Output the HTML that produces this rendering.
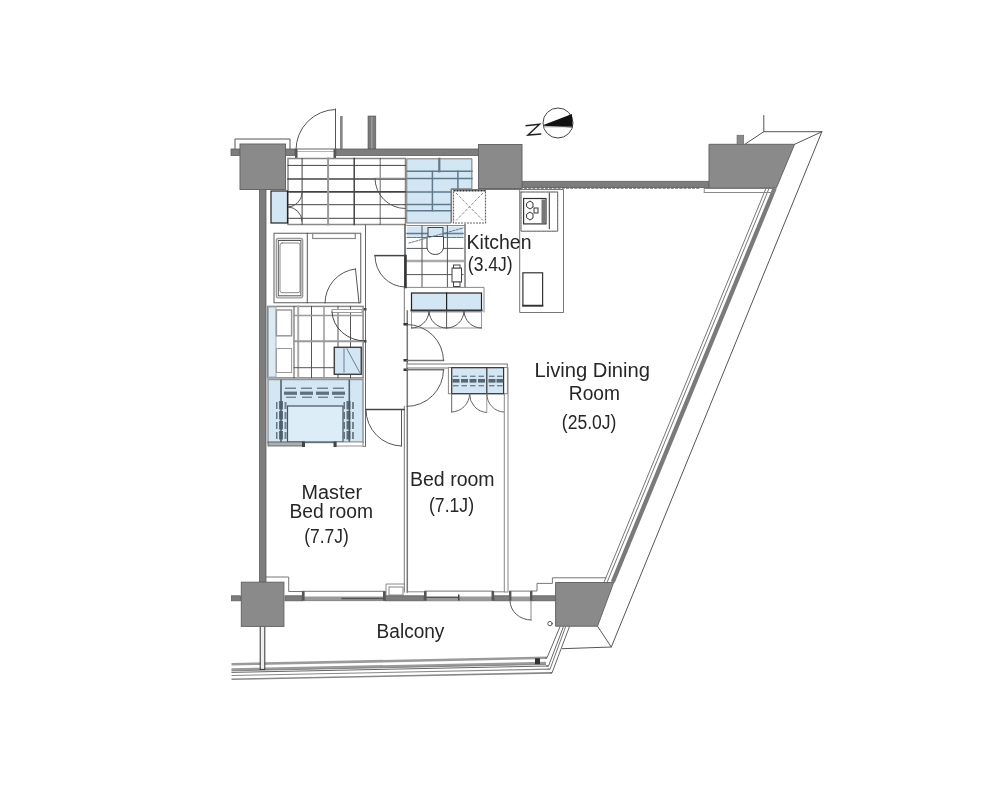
<!DOCTYPE html>
<html><head><meta charset="utf-8">
<style>
html,body{margin:0;padding:0;background:#fff;width:999px;height:801px;overflow:hidden}
svg{display:block;will-change:transform}
text{font-family:"Liberation Sans",sans-serif;fill:#262626}
</style></head>
<body>
<svg width="999" height="801" viewBox="0 0 999 801">
<g fill="none" stroke-linecap="square">

<!-- ===== slanted right side ===== -->
<g id="slant">
  <!-- outer thin line + top cap -->
  <polyline points="763.8,115.6 763.8,131.7 821.9,131.7 611.3,647 562.5,648.7" stroke="#555" stroke-width="1"/>
  <line x1="763.8" y1="131.7" x2="744.8" y2="144.3" stroke="#555" stroke-width="1"/>
  <line x1="794.6" y1="144.3" x2="821.9" y2="131.7" stroke="#555" stroke-width="1"/>
  <line x1="597.5" y1="626.2" x2="611.3" y2="647" stroke="#555" stroke-width="1"/>
  <!-- window: gray thick line -->
  <line x1="774.8" y1="188" x2="612.8" y2="582" stroke="#7a7a7a" stroke-width="4.3" stroke-linecap="butt"/>
  <line x1="769.2" y1="188" x2="607.2" y2="582" stroke="#777" stroke-width="1" stroke-linecap="butt"/>
  <line x1="766.1" y1="188" x2="604.1" y2="582" stroke="#777" stroke-width="1" stroke-linecap="butt"/>
</g>

<!-- ===== top-left ===== -->
<polyline points="235,149 235,139 290,139 290,149" stroke="#555" stroke-width="1"/>
<!-- entrance door -->
<path d="M296,150 A40,40 0 0 1 335.5,109.5" stroke="#555" stroke-width="1"/>
<line x1="335.5" y1="109" x2="335.5" y2="150" stroke="#555" stroke-width="1"/>
<rect x="295" y="149" width="41" height="3" fill="#fff" stroke="#666" stroke-width="1"/>
<rect x="295" y="152" width="41" height="4" fill="#fff" stroke="none"/>
<rect x="295" y="149" width="2.5" height="9" fill="#555" stroke="none"/>
<rect x="333.5" y="149" width="2.5" height="9" fill="#555" stroke="none"/>
<rect x="340" y="116" width="2.7" height="33" fill="#888" stroke="none"/>
<rect x="368" y="116" width="7.8" height="33" fill="#7a7a7a" stroke="#555" stroke-width="0.6"/>
<rect x="371" y="117" width="1.6" height="32" fill="#999" stroke="none"/>

<!-- entrance grid -->
<g stroke="#444" stroke-width="1">
  <rect x="288" y="158.5" width="117.5" height="66" stroke="#888" stroke-width="1.5"/>
  <line x1="288" y1="165.4" x2="405.5" y2="165.4"/>
  <line x1="288" y1="178.9" x2="405.5" y2="178.9" stroke-width="1.5"/>
  <line x1="288" y1="191.9" x2="405.5" y2="191.9" stroke-width="1.8"/>
  <line x1="288" y1="204.7" x2="405.5" y2="204.7"/>
  <line x1="288" y1="218.3" x2="405.5" y2="218.3"/>
  <line x1="302.1" y1="158.5" x2="302.1" y2="224.5"/>
  <line x1="328.1" y1="158.5" x2="328.1" y2="224.5" stroke="#999" stroke-width="2"/>
  <line x1="354.2" y1="158.5" x2="354.2" y2="224.5" stroke-width="1.5"/>
  <line x1="380.2" y1="158.5" x2="380.2" y2="224.5" stroke-width="0.8"/>
  <!-- small double door left -->
  <path d="M288,207 A14,14 0 0 0 302,193" stroke="#555"/>
  <path d="M288,207 A14,14 0 0 1 302,221" stroke="#555"/>
  <!-- door right -->
  <line x1="375" y1="178.5" x2="405" y2="178.5" stroke="#888" stroke-width="1.5"/>
  <path d="M375,178.5 A30,30 0 0 0 405,208.5" stroke="#555"/>
</g>
<rect x="271" y="191" width="16.5" height="32" fill="#d3e6f3" stroke="#222" stroke-width="1.2"/>

<!-- blue shoe closet -->
<g>
  <path d="M407.3,158.8 H471.9 V188.8 H451 V223 H407.3 Z" fill="#d3e6f3" stroke="#777" stroke-width="1"/>
  <g stroke="#5f7a8a" stroke-width="1.5">
    <line x1="407.3" y1="171.3" x2="471.9" y2="171.3"/>
    <line x1="407.3" y1="178.6" x2="471.9" y2="178.6"/>
    <line x1="407.3" y1="192" x2="451" y2="192"/>
    <line x1="407.3" y1="204.5" x2="451" y2="204.5"/>
    <line x1="407.3" y1="210.7" x2="451" y2="210.7"/>
    <line x1="439.3" y1="158.8" x2="439.3" y2="171.3" stroke-width="2.2"/>
    <line x1="432.4" y1="171.3" x2="432.4" y2="210.7"/>
    <line x1="457.9" y1="171.3" x2="457.9" y2="188.8"/>
  </g>
</g>

<!-- kitchen -->
<g stroke="#777" stroke-width="1">
  <polyline points="451.6,222 451.6,189.5 563.5,189.5 563.5,312.5 519.7,312.5 519.7,190"/>
  <rect x="704.2" y="188.5" width="70" height="4" stroke="#888"/>
</g>
<!-- fridge X box -->
<g stroke="#666" stroke-width="1" stroke-dasharray="2,1" stroke-linecap="butt">
  <rect x="453.5" y="190.5" width="32" height="32.5" stroke-width="1.2"/>
  <line x1="453.5" y1="190.8" x2="485.5" y2="190.8" stroke="#333" stroke-width="1.6" stroke-dasharray="2,1"/>
  <line x1="456" y1="193" x2="483" y2="220.5" stroke="#888" stroke-dasharray="3,1.5"/>
  <line x1="483" y1="193" x2="456" y2="220.5" stroke="#888" stroke-dasharray="3,1.5"/>
</g>
<!-- stove -->
<g stroke="#555" stroke-width="1">
  <rect x="521" y="192" width="36.7" height="39.2" stroke-dasharray="1.5,1"/>
  <rect x="523.6" y="198.5" width="22.4" height="25.4" stroke="#333" stroke-width="1.2"/>
  <rect x="541.5" y="199.5" width="4" height="23.5" fill="#777" stroke="none"/>
  <polygon points="527,203 530,201 533,203 533,207 530,209 527,207" stroke="#333"/>
  <polygon points="527,214 530,212 533,214 533,218 530,220 527,218" stroke="#333"/>
  <rect x="534" y="208" width="4" height="5" stroke="#333"/>
  <line x1="549.3" y1="193" x2="549.3" y2="228.6" stroke="#333"/>
  <rect x="522.9" y="272.8" width="19.7" height="33.2" stroke="#333" stroke-width="1.2"/>
  <line x1="522.9" y1="305.5" x2="542.6" y2="305.5" stroke="#333" stroke-width="1.5"/>
</g>

<!-- toilet room -->
<g stroke="#555" stroke-width="1">
  <rect x="464" y="224" width="2" height="63.5" fill="#999" stroke="none"/>
  <rect x="407" y="226.5" width="56" height="10.5" fill="#d3e6f3" stroke="none"/>
  <line x1="407" y1="225.5" x2="465" y2="225.5" stroke="#888"/>
  <line x1="407" y1="233.5" x2="463" y2="233.5" stroke="#5f7a8a" stroke-width="1.5"/>
  <line x1="407" y1="237.5" x2="463" y2="237.5" stroke="#5f7a8a" stroke-dasharray="1.5,1"/>
  <line x1="407" y1="248.4" x2="463" y2="248.4"/>
  <line x1="407" y1="261" x2="463" y2="261" stroke="#aaa" stroke-width="2.5"/>
  <line x1="407" y1="274.6" x2="463" y2="274.6"/>
  <line x1="422" y1="226" x2="422" y2="287"/>
  <line x1="447.4" y1="226" x2="447.4" y2="287"/>
  <path d="M427,237 V248 A8.5,8.5 0 0 0 443.5,248 V237" fill="#fff" stroke="#444"/>
  <rect x="428" y="227.5" width="15" height="9" fill="#d3e6f3" stroke="#444"/>
  <rect x="452" y="268" width="9.5" height="14" fill="#fff" stroke="#444"/>
  <rect x="453.5" y="265" width="6.5" height="3" fill="#fff" stroke="#444"/>
  <rect x="453.5" y="282" width="6.5" height="4.5" fill="#fff" stroke="#444"/>
  <line x1="409" y1="243" x2="463" y2="228" stroke="#5f7a8a" stroke-dasharray="2,1.5"/>
</g>
<!-- counter with blue -->
<g>
  <polyline points="406,287.4 484,287.4 484,312" fill="none" stroke="#888" stroke-width="1"/>
  <rect x="411.5" y="293" width="70" height="17.6" fill="#d3e6f3" stroke="#222" stroke-width="1.2"/>
  <line x1="446.6" y1="293" x2="446.6" y2="310.6" stroke="#222" stroke-width="1.2"/>
  <line x1="411.5" y1="310.6" x2="481.5" y2="310.6" stroke="#333" stroke-width="2"/>
  <g stroke="#555" stroke-width="1">
    <rect x="411.5" y="312" width="70" height="16" stroke="#999"/>
    <path d="M411.5,328 A17,17 0 0 0 429,311"/>
    <path d="M446.6,328 A17,17 0 0 1 429,311"/>
    <path d="M446.6,328 A17,17 0 0 0 464,311"/>
    <path d="M481.5,328 A17,17 0 0 1 464,311"/>
    <line x1="446.6" y1="311" x2="446.6" y2="328"/>
  </g>
</g>

<!-- bath -->
<g stroke="#666" stroke-width="1">
  <rect x="274" y="233.3" width="86.7" height="69.4" stroke="#777" stroke-width="1.2"/>
  <line x1="307.3" y1="233.3" x2="307.3" y2="302.7" stroke="#555"/>
  <rect x="276.3" y="238.5" width="26.4" height="59.3" rx="2" stroke="#999" stroke-width="1.3"/>
  <rect x="278.3" y="240.5" width="22.6" height="55.3" stroke="#555" stroke-width="1"/>
  <rect x="280" y="243" width="20" height="49.7" rx="2" stroke="#888" stroke-width="1"/>
  <rect x="312.7" y="233.5" width="42.6" height="5" stroke="#888" stroke-width="1.2"/>
  <path d="M325,303 A34,34 0 0 1 355.5,269" stroke="#555"/>
  <line x1="355.5" y1="269" x2="359" y2="303" stroke="#555"/>
  <line x1="365.5" y1="225" x2="365.5" y2="446.5" stroke="#666"/>
  <rect x="363.5" y="308" width="3" height="2.5" fill="#444" stroke="none"/>
  <rect x="363.5" y="340" width="3" height="2.5" fill="#444" stroke="none"/>
</g>

<!-- wash area -->
<g stroke="#555" stroke-width="1">
  <rect x="267.6" y="306.4" width="95.5" height="71.5" stroke="#888" stroke-width="1.5"/>
  <rect x="268.5" y="307" width="7.5" height="70" fill="#dceaf3" stroke="#9ab" stroke-dasharray="1,1"/>
  <rect x="276.4" y="310" width="15.2" height="25.8" stroke="#999" stroke-width="1.5"/>
  <rect x="276.4" y="348.5" width="15.2" height="24" stroke="#999" stroke-width="1"/>
  <line x1="294" y1="306.4" x2="294" y2="377.9"/>
  <line x1="298.2" y1="306.4" x2="298.2" y2="377.9" stroke="#aaa" stroke-width="2"/>
  <line x1="311.5" y1="306.4" x2="311.5" y2="377.9"/>
  <line x1="324" y1="306.4" x2="324" y2="377.9" stroke="#999" stroke-width="1.5"/>
  <line x1="338" y1="306.4" x2="338" y2="377.9"/>
  <line x1="350.5" y1="306.4" x2="350.5" y2="377.9"/>
  <line x1="294" y1="315.4" x2="363" y2="315.4" stroke="#999" stroke-width="1.5"/>
  <line x1="294" y1="341.2" x2="363" y2="341.2" stroke="#999" stroke-width="2"/>
  <line x1="294" y1="367.7" x2="334" y2="367.7"/>
  <rect x="332" y="309.5" width="30" height="3" fill="#fff" stroke="#999"/>
  <path d="M332,312 A33,30 0 0 0 365,341" stroke="#444"/>
  <rect x="334.3" y="347.3" width="27" height="27" fill="#d3e6f3" stroke="#444" stroke-width="1.5"/>
  <line x1="347" y1="349" x2="360" y2="373" stroke="#5f7a8a" stroke-dasharray="1.5,1"/>
  <line x1="344" y1="349" x2="344" y2="373" stroke="#5f7a8a" stroke-dasharray="1,1"/>
</g>

<!-- WIC blue -->
<g>
  <rect x="268" y="379.5" width="95" height="63" fill="#d3e6f3" stroke="#8a9aa4" stroke-width="1.5"/>
  <rect x="287.5" y="406" width="55.5" height="36" fill="#dcedf8" stroke="#44545e" stroke-width="1.2"/>
  <g stroke="#52626c" stroke-width="1.6" stroke-dasharray="1.5,1.2">
    <line x1="281" y1="380.5" x2="281" y2="441.5"/><line x1="349.3" y1="380.5" x2="349.3" y2="441.5"/>
  </g>
  <g fill="#4a5a64">
    <rect x="285" y="387.6" width="11" height="1.3" opacity="0.8"/>
    <rect x="284" y="391.6" width="13" height="3.2" opacity="0.85"/>
    <rect x="286" y="396.6" width="10" height="1.4" opacity="0.7"/>
    <rect x="301" y="387.6" width="11" height="1.3" opacity="0.8"/>
    <rect x="300" y="391.6" width="13" height="3.2" opacity="0.85"/>
    <rect x="302" y="396.6" width="10" height="1.4" opacity="0.7"/>
    <rect x="317" y="387.6" width="11" height="1.3" opacity="0.8"/>
    <rect x="316" y="391.6" width="13" height="3.2" opacity="0.85"/>
    <rect x="318" y="396.6" width="10" height="1.4" opacity="0.7"/>
    <rect x="333" y="387.6" width="11" height="1.3" opacity="0.8"/>
    <rect x="332" y="391.6" width="13" height="3.2" opacity="0.85"/>
    <rect x="334" y="396.6" width="10" height="1.4" opacity="0.7"/>
    <rect x="276" y="402" width="1.5" height="7" opacity="0.8"/>
    <rect x="279" y="401" width="4" height="8.5" opacity="0.85"/>
    <rect x="284.5" y="402" width="2" height="7" opacity="0.7"/>
    <rect x="343.5" y="402" width="1.5" height="7" opacity="0.8"/>
    <rect x="346.5" y="401" width="4" height="8.5" opacity="0.85"/>
    <rect x="352.0" y="402" width="2" height="7" opacity="0.7"/>
    <rect x="276" y="412" width="1.5" height="7" opacity="0.8"/>
    <rect x="279" y="411" width="4" height="8.5" opacity="0.85"/>
    <rect x="284.5" y="412" width="2" height="7" opacity="0.7"/>
    <rect x="343.5" y="412" width="1.5" height="7" opacity="0.8"/>
    <rect x="346.5" y="411" width="4" height="8.5" opacity="0.85"/>
    <rect x="352.0" y="412" width="2" height="7" opacity="0.7"/>
    <rect x="276" y="422" width="1.5" height="7" opacity="0.8"/>
    <rect x="279" y="421" width="4" height="8.5" opacity="0.85"/>
    <rect x="284.5" y="422" width="2" height="7" opacity="0.7"/>
    <rect x="343.5" y="422" width="1.5" height="7" opacity="0.8"/>
    <rect x="346.5" y="421" width="4" height="8.5" opacity="0.85"/>
    <rect x="352.0" y="422" width="2" height="7" opacity="0.7"/>
    <rect x="276" y="432" width="1.5" height="7" opacity="0.8"/>
    <rect x="279" y="431" width="4" height="8.5" opacity="0.85"/>
    <rect x="284.5" y="432" width="2" height="7" opacity="0.7"/>
    <rect x="343.5" y="432" width="1.5" height="7" opacity="0.8"/>
    <rect x="346.5" y="431" width="4" height="8.5" opacity="0.85"/>
    <rect x="352.0" y="432" width="2" height="7" opacity="0.7"/>
  </g>
  <rect x="268" y="442" width="35" height="4" fill="#a8b0b4" stroke="#555" stroke-width="0.8"/>
  <rect x="336" y="442" width="27" height="4" fill="#fff" stroke="#777" stroke-width="0.8"/>
  <rect x="302" y="441.5" width="3" height="5.5" fill="#444"/>
  <rect x="333.5" y="441.5" width="3" height="5.5" fill="#444"/>
</g>

<!-- interior walls -->
<g stroke="#666" stroke-width="1">
  <!-- master/corridor wall x ~366 lower (right of WIC) -->
  <line x1="363" y1="446.5" x2="365.5" y2="446.5" stroke="#888"/>
  <!-- corridor vertical wall between toilet & corridor and bedrooms -->
  <line x1="404.3" y1="287" x2="404.3" y2="324.5" stroke="#777"/>
  <line x1="404.3" y1="406.5" x2="404.3" y2="592" stroke="#777"/>
  <line x1="407.3" y1="311" x2="407.3" y2="592" stroke="#777" stroke-width="1.5"/>
  <rect x="403.5" y="323" width="4.5" height="2.5" fill="#333" stroke="none"/>
  <rect x="403.5" y="359" width="4.5" height="2.5" fill="#333" stroke="none"/>
  <rect x="403.5" y="368.5" width="4.5" height="2.5" fill="#333" stroke="none"/>
  <line x1="405" y1="225" x2="405" y2="287" stroke="#555" stroke-width="1.5"/>
  <line x1="405.5" y1="256" x2="405.5" y2="287" stroke="#333" stroke-width="2.5"/>
  <!-- horizontal wall bedroom top -->
  <rect x="407" y="364" width="100.3" height="4" fill="#fff" stroke="#777"/>
  <!-- bedroom right wall -->
  <rect x="504.3" y="368" width="3.7" height="224" fill="#fff" stroke="#888"/>
  <!-- bedroom bottom -->
  <line x1="407" y1="591.8" x2="504.4" y2="591.8" stroke="#888"/>
  <!-- little box at bottom of wall -->
  <polyline points="386,595 386,584 404,584" stroke="#888"/>
  <rect x="389" y="587" width="14" height="8" fill="#fff" stroke="#888"/>
  <!-- left wall inner line -->
  <!-- master top-right outline at bottom -->
  <polyline points="265.7,577 288.7,577 288.7,591.5 302.3,591.5" stroke="#777"/>
  <polyline points="531.5,591 537,591 537,583.4 552.4,583.4 552.4,577.8 606,577.8" stroke="#777"/>
</g>

<!-- doors -->
<g stroke="#555" stroke-width="1">
  <!-- toilet door -->
  <line x1="375" y1="255.6" x2="405" y2="255.6" stroke="#444" stroke-width="1.5"/>
  <path d="M375,256 A30,31 0 0 0 405,287"/>
  <!-- LDK door -->
  <line x1="407" y1="360.4" x2="443.5" y2="360.4" stroke="#777" stroke-width="1.5"/>
  <path d="M407,324.5 A36.5,36 0 0 1 443.5,360.4"/>
  <!-- bedroom door -->
  <line x1="407" y1="369.8" x2="443.5" y2="369.8" stroke="#777" stroke-width="1.5"/>
  <path d="M443.5,369.8 A36.5,36.5 0 0 1 407,406.4"/>
  <!-- WIC door -->
  <line x1="366" y1="409.5" x2="404" y2="409.5" stroke="#444" stroke-width="1.5"/>
  <path d="M366,410 A36,36 0 0 0 401.5,446"/>
  <line x1="401.5" y1="410" x2="401.5" y2="446"/>
  <!-- balcony door -->
  <path d="M510,601 A21,19 0 0 0 531,620"/>
  <line x1="531" y1="601" x2="531" y2="620" stroke="#888"/>
  <circle cx="550" cy="623.6" r="2.2"/>
</g>

<!-- bedroom closet -->
<g>
  <rect x="448.4" y="367.5" width="59" height="26.2" fill="#fff" stroke="#888" stroke-width="1"/>
  <rect x="451.7" y="367.7" width="51.9" height="26" fill="#d3e6f3" stroke="#333" stroke-width="1.2"/>
  <line x1="486.8" y1="367.7" x2="486.8" y2="393.7" stroke="#333" stroke-width="1.2"/>
  <g fill="#4a5a64">
    <rect x="453" y="375.6" width="5.5" height="1.4" opacity="0.7"/>
    <rect x="452.5" y="379" width="7" height="3.6" opacity="0.9"/>
    <rect x="453" y="385" width="5.5" height="1.4" opacity="0.7"/>
    <rect x="461.5" y="375.6" width="5.5" height="1.4" opacity="0.7"/>
    <rect x="461.0" y="379" width="7" height="3.6" opacity="0.9"/>
    <rect x="461.5" y="385" width="5.5" height="1.4" opacity="0.7"/>
    <rect x="470" y="375.6" width="5.5" height="1.4" opacity="0.7"/>
    <rect x="469.5" y="379" width="7" height="3.6" opacity="0.9"/>
    <rect x="470" y="385" width="5.5" height="1.4" opacity="0.7"/>
    <rect x="478.5" y="375.6" width="5.5" height="1.4" opacity="0.7"/>
    <rect x="478.0" y="379" width="7" height="3.6" opacity="0.9"/>
    <rect x="478.5" y="385" width="5.5" height="1.4" opacity="0.7"/>
    <rect x="489" y="375.6" width="5.5" height="1.4" opacity="0.7"/>
    <rect x="488.5" y="379" width="7" height="3.6" opacity="0.9"/>
    <rect x="489" y="385" width="5.5" height="1.4" opacity="0.7"/>
    <rect x="497" y="375.6" width="5.5" height="1.4" opacity="0.7"/>
    <rect x="496.5" y="379" width="7" height="3.6" opacity="0.9"/>
    <rect x="497" y="385" width="5.5" height="1.4" opacity="0.7"/>
  </g>
  <g stroke="#666" stroke-width="1" fill="none">
    <line x1="451.7" y1="394" x2="451.7" y2="412"/>
    <path d="M451.7,412 A18,18 0 0 0 469.6,394.3"/>
    <path d="M469.6,394.3 A18,18 0 0 0 486.5,412.5"/>
    <line x1="486.8" y1="394" x2="486.8" y2="412.5" stroke="#999"/>
    <path d="M486.8,394 A17,18 0 0 0 503.5,412"/>
  </g>
</g>

<!-- bottom windows -->
<g>
  <rect x="302.4" y="591.3" width="82.7" height="9.3" fill="#fff" stroke="#777" stroke-width="1"/>
  <rect x="302.9" y="596.5" width="81.7" height="3.8" fill="#9a9a9a"/>
  <line x1="342" y1="598.5" x2="383" y2="598.5" stroke="#555" stroke-width="1.5" stroke-dasharray="1.5,1"/>
  <rect x="302" y="591.3" width="2.6" height="9.3" fill="#555"/>
  <rect x="383" y="591.3" width="2.6" height="9.3" fill="#555"/>
  <rect x="425" y="591.1" width="68" height="9.6" fill="#fff" stroke="#777" stroke-width="1"/>
  <rect x="425.5" y="596.5" width="67" height="3.8" fill="#9a9a9a"/>
  <line x1="426" y1="597.3" x2="458.5" y2="597.3" stroke="#444" stroke-width="1"/>
  <rect x="424" y="591.1" width="2.6" height="9.6" fill="#555"/>
  <rect x="491.5" y="591.1" width="2.6" height="9.6" fill="#555"/>
  <rect x="458" y="594.5" width="1.5" height="6" fill="#444"/>
  <rect x="509.7" y="591.1" width="21.7" height="9.6" fill="#fff" stroke="#777" stroke-width="1"/>
  <rect x="510.2" y="596.5" width="20.7" height="3.8" fill="#9a9a9a"/>
  <rect x="509" y="591.1" width="2.4" height="9.6" fill="#555"/>
  <rect x="530" y="591.1" width="2.4" height="9.6" fill="#555"/>
</g>

<!-- balcony rails -->
<g stroke-linecap="butt" stroke-linejoin="miter">
  <polyline points="231.5,664.3 547,657.8" stroke="#9a9a9a" stroke-width="2.6"/>
  <polyline points="231.5,669.5 546,663.1" stroke="#9a9a9a" stroke-width="2.6"/>
  <polyline points="231.5,670.8 546,664.4" stroke="#777" stroke-width="0.8"/>
  <polyline points="231.5,672.4 548.5,666" stroke="#666" stroke-width="1"/>
  <polyline points="231.5,675.5 550,669.2" stroke="#888" stroke-width="1.2"/>
  <polyline points="231.5,679.2 552,672.9" stroke="#888" stroke-width="1.6"/>
  <polyline points="545,658 547,657.8 560.1,626.5" stroke="#666" stroke-width="1"/>
  <polyline points="546,666 548.5,666 563.5,626.5" stroke="#666" stroke-width="1"/>
  <polyline points="548,669.2 550,669.2 565.7,626.5" stroke="#777" stroke-width="1"/>
  <polyline points="550,672.9 552,672.9 569.5,626.5" stroke="#666" stroke-width="1"/>
  <rect x="535" y="658.2" width="5" height="6" fill="#333" stroke="none"/>
  <rect x="260.2" y="626" width="4.6" height="43.4" fill="#eee" stroke="#333" stroke-width="1"/>
</g>
</g>

<!-- ===== walls & columns ===== -->
<g fill="#7d7d7d" stroke="#5e5e5e" stroke-width="0.8">
  <rect x="231" y="149" width="9" height="6.5"/>
  <rect x="285" y="149" width="10" height="6.5"/>
  <rect x="336" y="149" width="143" height="6.5"/>
  <rect x="522" y="181.3" width="187" height="6.2"/>
  <rect x="259.5" y="189" width="6.5" height="393"/>
  <rect x="231.5" y="595.8" width="9" height="5"/>
  <rect x="285" y="595.8" width="17" height="5"/>
  <rect x="385.5" y="595.8" width="38.5" height="5"/>
  <rect x="494" y="595.8" width="15.5" height="5"/>
  <rect x="532" y="595.8" width="24" height="5"/>
</g>
<g fill="#8a8a8a" stroke="#666" stroke-width="1">
  <rect x="240" y="144" width="45.5" height="45.5"/>
  <rect x="478.5" y="144.5" width="43.5" height="44"/>
  <polygon points="709,144.3 794.6,144.3 776.4,187.8 709,187.8"/>
  <rect x="241.3" y="582.2" width="42.6" height="44.2"/>
  <polygon points="555.6,582.5 613.7,582.5 597.5,626.2 555.6,626.2"/>
</g>
<line x1="524" y1="187.8" x2="700" y2="187.8" stroke="#6a6a6a" stroke-width="2" stroke-dasharray="3,1.2"/>
<rect x="737" y="135.2" width="6.7" height="9.1" fill="#8a8a8a" stroke="#666" stroke-width="0.6"/>

<!-- north symbol -->
<circle cx="558" cy="123" r="15" fill="none" stroke="#444" stroke-width="1"/>
<polygon points="544,124.8 572,114 572.5,127.5 544,125.8" fill="#111"/>
<line x1="544" y1="126.8" x2="572" y2="126.8" stroke="#888" stroke-width="0.8"/>
<path d="M525.5,125.8 L539.5,124.3 L528,135 L541.3,134" fill="none" stroke="#222" stroke-width="1.5"/>

<!-- ===== text ===== -->
<g font-size="20">
  <text x="466.6" y="249" textLength="64.9" lengthAdjust="spacingAndGlyphs">Kitchen</text>
  <text x="467.8" y="271" textLength="44.8" lengthAdjust="spacingAndGlyphs">(3.4J)</text>
  <text x="534.5" y="377.4" textLength="115.5" lengthAdjust="spacingAndGlyphs">Living Dining</text>
  <text x="568.8" y="399.6" textLength="51.1" lengthAdjust="spacingAndGlyphs">Room</text>
  <text x="561.8" y="428.6" textLength="54.6" lengthAdjust="spacingAndGlyphs">(25.0J)</text>
  <text x="410.0" y="485.5" textLength="84.6" lengthAdjust="spacingAndGlyphs">Bed room</text>
  <text x="429.0" y="511.5" textLength="45.0" lengthAdjust="spacingAndGlyphs">(7.1J)</text>
  <text x="301.6" y="498.7" textLength="60.4" lengthAdjust="spacingAndGlyphs">Master</text>
  <text x="289.5" y="518" textLength="83.5" lengthAdjust="spacingAndGlyphs">Bed room</text>
  <text x="304.3" y="543.3" textLength="44.4" lengthAdjust="spacingAndGlyphs">(7.7J)</text>
  <text x="376.6" y="637.5" textLength="67.8" lengthAdjust="spacingAndGlyphs">Balcony</text>
</g>
</svg>
</body></html>
